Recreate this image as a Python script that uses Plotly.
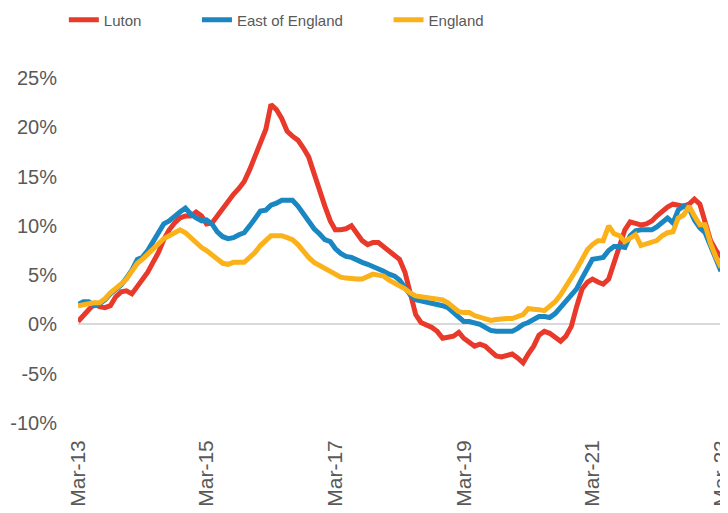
import pandas as pd
import plotly.graph_objects as go

# Monthly dates, Mar-13 .. Mar-23
months = pd.date_range("2013-03-01", "2023-03-01", freq="MS")

luton = [
    0.3, 0.9, 1.5, 2.1, 1.8, 1.7, 1.9, 2.8, 3.3, 3.4,
    3.1, 3.8, 4.5, 5.3, 6.3, 7.3, 8.6, 9.6, 10.3, 10.8,
    11.0, 11.0, 11.4, 11.0, 10.2, 10.3, 11.0, 11.8, 12.6, 13.2,
    13.8, 14.5, 15.7, 17.0, 18.2, 19.8, 22.3, 21.8, 20.9, 19.6,
    19.1, 18.7, 17.9, 17.0, 15.3, 13.5, 12.0, 10.5, 9.6, 9.6,
    9.7, 10.0, 9.3, 8.5, 8.1, 8.3, 8.3, 7.9, 7.5, 7.1,
    6.6, 5.3, 3.0, 1.0, 0.2, 0.0, -0.3, -0.7, -1.4, -1.3,
    -1.2, -0.8, -1.4, -1.8, -2.2, -2.0, -2.2, -2.7, -3.2, -3.3,
    -3.2, -3.0, -3.4, -3.9, -3.0, -2.2, -1.1, -0.7, -0.9, -1.3,
    -1.7, -1.2, -0.2, 1.8, 3.6, 4.3, 4.6, 4.3, 4.1, 4.6,
    6.2, 7.8, 9.6, 10.4, 10.3, 10.1, 10.2, 10.5, 11.0, 11.5,
    11.9, 12.2, 12.1, 12.0, 12.2, 12.7, 12.2, 10.5, 8.5, 7.5,
    6.8,
]

east_of_england = [
    2.0, 2.3, 2.3, 1.9, 2.1, 2.5, 3.1, 3.6, 4.0, 4.7,
    5.5, 6.6, 6.8, 7.5, 8.4, 9.4, 10.2, 10.5, 11.0, 11.4,
    11.8, 11.2, 10.8, 10.5, 10.6, 10.2, 9.4, 8.9, 8.7, 8.8,
    9.1, 9.3, 10.0, 10.8, 11.5, 11.6, 12.1, 12.3, 12.6, 12.6,
    12.6, 12.0, 11.2, 10.4, 9.7, 9.2, 8.6, 8.4, 7.7, 7.2,
    6.9, 6.8, 6.5, 6.3, 6.1, 5.9, 5.6, 5.4, 5.1, 4.9,
    4.5, 3.7, 3.0, 2.5, 2.4, 2.3, 2.2, 2.0, 1.9, 1.7,
    1.2, 0.6, 0.3, 0.3, 0.2, 0.0, -0.3, -0.6, -0.7, -0.7,
    -0.7, -0.7, -0.4, 0.0, 0.2, 0.5, 0.8, 0.8, 0.7, 1.1,
    1.7, 2.4, 3.0, 3.6, 4.7, 5.8, 6.6, 6.7, 6.8, 7.5,
    7.9, 7.9, 7.8, 9.0, 9.5, 9.6, 9.6, 9.6, 9.9, 10.3,
    10.8, 10.3, 11.6, 12.0, 11.8, 10.6, 9.8, 9.3, 8.0, 6.6,
    5.4,
]

england = [
    1.9, 2.0, 2.2, 2.2, 2.2, 2.6, 3.2, 3.6, 4.1, 4.6,
    5.4, 6.2, 6.6, 7.1, 7.6, 8.2, 8.7, 9.0, 9.3, 9.6,
    9.3, 8.8, 8.3, 7.8, 7.5, 7.1, 6.6, 6.2, 6.1, 6.3,
    6.3, 6.3, 6.8, 7.3, 8.0, 8.6, 9.0, 9.0, 9.0, 8.8,
    8.6, 8.1, 7.4, 6.8, 6.3, 6.0, 5.7, 5.5, 5.1, 4.8,
    4.7, 4.6, 4.6, 4.6, 4.8, 5.1, 5.0, 4.9, 4.5, 4.2,
    4.0, 3.6, 3.2, 2.9, 2.8, 2.7, 2.6, 2.6, 2.5, 2.2,
    1.7, 1.3, 1.2, 1.2, 0.9, 0.7, 0.5, 0.4, 0.5, 0.6,
    0.6, 0.6, 0.8, 1.0, 1.6, 1.6, 1.5, 1.4, 1.8, 2.3,
    3.0, 3.8, 4.8, 5.6, 6.6, 7.6, 8.1, 8.5, 8.5, 10.0,
    9.2, 9.0, 8.4, 8.8, 9.1, 8.0, 8.2, 8.4, 8.5, 9.0,
    9.3, 9.4, 10.8, 11.1, 12.0, 11.0, 10.1, 10.1, 8.2, 6.8,
    5.8,
]

tick_dates = ["2013-03-01", "2015-03-01", "2017-03-01", "2019-03-01", "2021-03-01", "2023-03-01"]
tick_labels = ["Mar-13", "Mar-15", "Mar-17", "Mar-19", "Mar-21", "Mar-23"]
y_ticks = [-10, -5, 0, 5, 10, 15, 20, 25]
y_labels = ["-10%", "-5%", "0%", "5%", "10%", "15%", "20%", "25%"]

series = [
    ("Luton", luton, "#E8392A", "legend"),
    ("East of England", east_of_england, "#1A87C2", "legend2"),
    ("England", england, "#FBB21A", "legend3"),
]

fig = go.Figure()
for name, vals, color, lg in series:
    fig.add_trace(go.Scatter(
        x=months, y=vals, name=name, mode="lines",
        line=dict(color=color, width=5),
        cliponaxis=False, legend=lg,
    ))

legend_font = dict(family="Liberation Sans, Arial, sans-serif", size=15, color="#595959")
common_leg = dict(orientation="h", yanchor="middle", y=1.168, xanchor="left",
                  bgcolor="rgba(0,0,0,0)", font=legend_font, itemwidth=30)

fig.update_layout(
    width=728, height=513,
    margin=dict(l=70, r=15, t=70, b=98, autoexpand=False),
    paper_bgcolor="white", plot_bgcolor="white",
    showlegend=True,
    legend=dict(common_leg, x=-0.022),
    legend2=dict(common_leg, x=0.185),
    legend3=dict(common_leg, x=0.483),
    xaxis=dict(
        range=[months[0], months[-1]],
        tickvals=tick_dates, ticktext=tick_labels,
        tickangle=-90, showgrid=False, showline=False, zeroline=False,
        ticks="", ticklabelstandoff=12, ticklabeloverflow="allow",
        tickfont=dict(family="Liberation Sans, Arial, sans-serif", size=21, color="#595959"),
    ),
    xaxis2=dict(
        overlaying="x", matches="x", anchor="free", position=10 / 35,
        range=[months[0], months[-1]],
        tickvals=tick_dates, showticklabels=False,
        ticks="outside", ticklen=6, tickwidth=2, tickcolor="#D9D9D9",
        showline=True, linecolor="#D9D9D9", linewidth=2,
        showgrid=False, zeroline=False,
    ),
    yaxis=dict(
        range=[-10, 25], tickvals=y_ticks, ticktext=y_labels,
        showgrid=False, showline=False, zeroline=True,
        zerolinecolor="#D9D9D9", zerolinewidth=2,
        ticks="", ticklabelstandoff=20,
        tickfont=dict(family="Liberation Sans, Arial, sans-serif", size=20, color="#595959"),
    ),
)

fig.write_html("out.html")
